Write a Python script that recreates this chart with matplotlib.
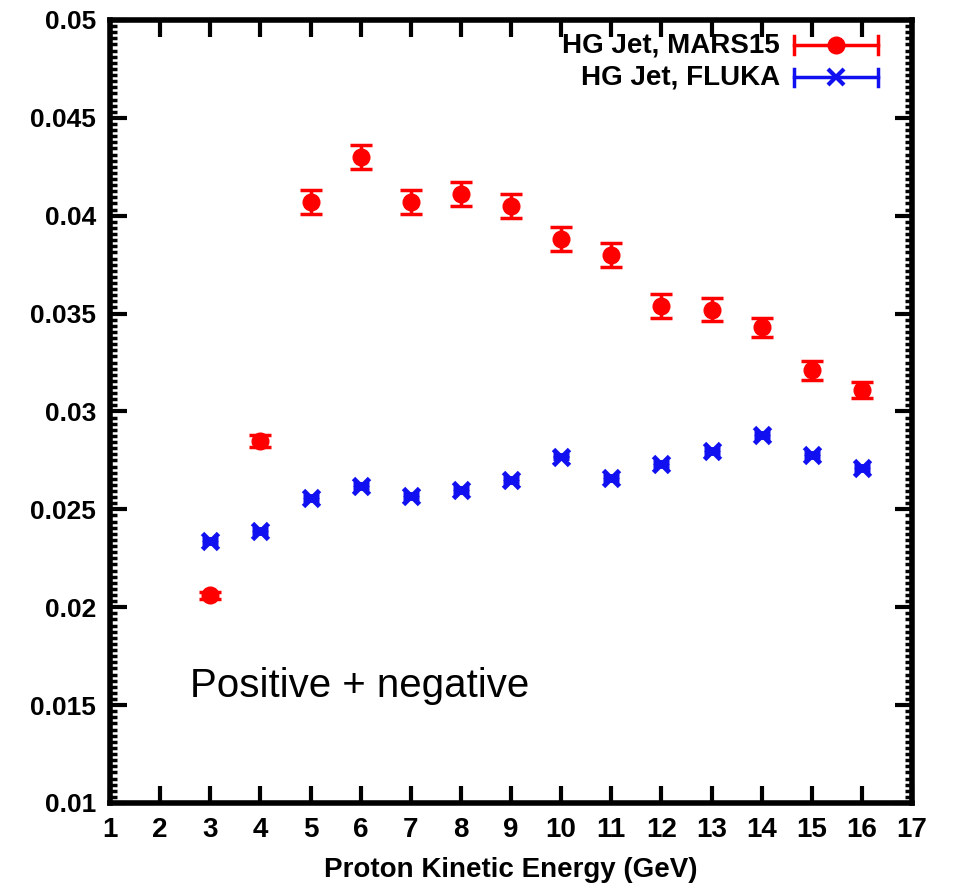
import numpy as np
import matplotlib.pyplot as plt
from matplotlib.ticker import MultipleLocator, AutoMinorLocator

# data
energy = [3, 4, 5, 6, 7, 8, 9, 10, 11, 12, 13, 14, 15, 16]
mars15 = [0.0206, 0.0285, 0.0407, 0.0430, 0.0407, 0.0411, 0.0405,
          0.0388, 0.0380, 0.0354, 0.0352, 0.0343, 0.0321, 0.0311]
mars15_err = [0.0002, 0.0003, 0.0006, 0.0006, 0.0006, 0.0006, 0.0006,
              0.0006, 0.0006, 0.0006, 0.0006, 0.0005, 0.0005, 0.0004]
fluka = [0.0234, 0.0239, 0.0256, 0.0262, 0.0257, 0.0260, 0.0265,
         0.0277, 0.0266, 0.0273, 0.0280, 0.0288, 0.0278, 0.0271]
fluka_err = [0.0001] * 14
ytick_vals = [0.01, 0.015, 0.02, 0.025, 0.03, 0.035, 0.04, 0.045, 0.05]
ytick_labels = ['0.01', '0.015', '0.02', '0.025', '0.03', '0.035',
                '0.04', '0.045', '0.05']

plt.rcParams['font.family'] = ['Liberation Sans', 'DejaVu Sans']

fig = plt.figure(figsize=(9.55, 8.96), dpi=100)
ax = fig.add_axes([0.1152, 0.1038, 0.8398, 0.8739])

ax.errorbar(energy, mars15, yerr=mars15_err, fmt='o', color='red',
            markersize=12, elinewidth=2.5, capsize=8, capthick=2.5)
ax.errorbar(energy, fluka, yerr=fluka_err, fmt='x', color='#1010f0',
            markersize=11, markeredgewidth=3.5, elinewidth=2, capsize=6, capthick=2)

ax.set_xlim(1, 17)
ax.set_ylim(0.01, 0.05)
ax.xaxis.set_major_locator(MultipleLocator(1))
ax.set_yticks(ytick_vals)
ax.set_yticklabels(ytick_labels)
ax.yaxis.set_minor_locator(AutoMinorLocator(16))

for s in ax.spines.values():
    s.set_linewidth(4)
ax.tick_params(which='major', direction='in', length=12, width=3,
               top=True, right=True, pad=10)
ax.tick_params(axis='x', labelsize=20)
ax.tick_params(axis='y', labelsize=19)
ax.tick_params(which='minor', direction='in', length=5, width=2.5,
               left=True, right=True)
for lab in ax.get_xticklabels() + ax.get_yticklabels():
    lab.set_fontweight('bold')

ax.set_xlabel('Proton Kinetic Energy (GeV)', fontsize=20, fontweight='bold',
              labelpad=10)

ax.text(0.1, 0.135, 'Positive + negative', transform=ax.transAxes,
        fontsize=29, ha='left', va='baseline')

# gnuplot-style key, samples drawn in axes coordinates
key = [('HG Jet, MARS15', 'red', 'o', 12, 0.968),
       ('HG Jet, FLUKA', '#1010f0', 'x', 11, 0.927)]
for label, col, mk, ms, y in key:
    ax.text(0.835, y, label, transform=ax.transAxes, ha='right', va='center',
            fontsize=20, fontweight='bold')
    ax.plot([0.853, 0.957], [y, y], color=col, lw=2.5, transform=ax.transAxes,
            clip_on=False)
    for xe in (0.853, 0.957):
        ax.plot([xe, xe], [y - 0.011, y + 0.011], color=col, lw=2.5,
                transform=ax.transAxes)
    ax.plot([0.905], [y], marker=mk, color=col, markersize=ms,
            markeredgewidth=3 if mk == 'x' else 1, transform=ax.transAxes)

fig.savefig('out.png', dpi=100)
